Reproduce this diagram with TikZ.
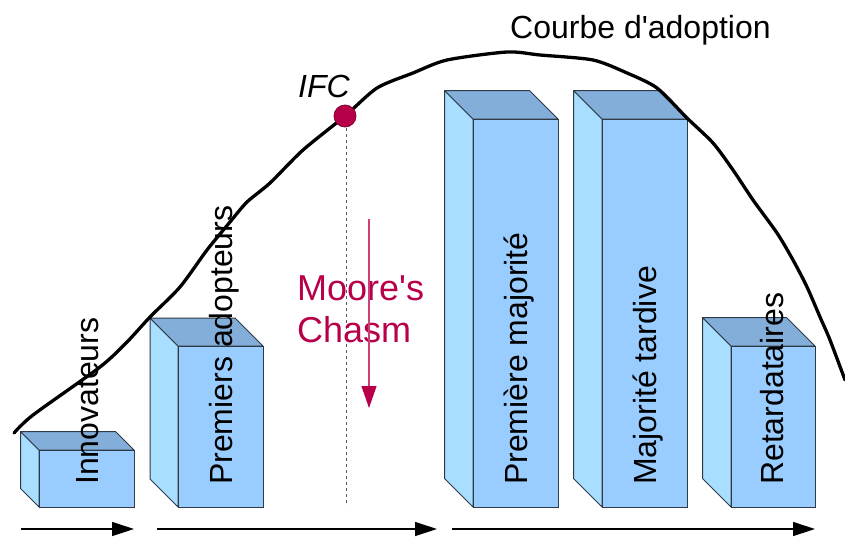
\documentclass[tikz,border=0pt]{standalone}
\usepackage{fontspec}
\setmainfont{Liberation Sans}
\usetikzlibrary{arrows.meta}
\definecolor{frontc}{HTML}{99CCFF}
\definecolor{topc}{HTML}{83AEDA}
\definecolor{sidec}{HTML}{A8DEFF}
\definecolor{edgec}{HTML}{2E3A46}
\definecolor{chasm}{HTML}{B8004A}
\newcommand\prismbox[5]{%
  \fill[sidec,draw=edgec,line width=1pt,line join=round] ({#1-#5},{#3-#5}) -- (#1,#3) -- (#1,#4) -- ({#1-#5},{#4-#5}) -- cycle;
  \fill[topc,draw=edgec,line width=1pt,line join=round] ({#1-#5},{#3-#5}) -- ({#2-#5},{#3-#5}) -- (#2,#3) -- (#1,#3) -- cycle;
  \fill[frontc,draw=edgec,line width=1pt] (#1,#3) rectangle (#2,#4);}
\tikzset{
  lbl/.style={rotate=90,anchor=base west,inner sep=0pt,font=\fontsize{32}{38}\selectfont},
  flow/.style={line width=1.3pt,-{Triangle[length=22pt,width=14pt]}},
}
\begin{document}
\begin{tikzpicture}[x=1pt,y=-1pt]
\useasboundingbox (0,0) rectangle (845,536);
% boxes
\prismbox{39}{134}{450}{507}{18.5}
\prismbox{178}{263}{346}{507}{28}
\prismbox{473}{558}{119}{507}{28.5}
\prismbox{602}{687}{119}{507}{28.5}
\prismbox{731}{815}{346}{507}{28.5}
% dashed IFC line
\coordinate (chasmbot) at (346,506);
\draw[gray!70!black,line width=1pt,dash pattern=on 3pt off 3pt] (346,116) -- (chasmbot);
% curve
\draw[line width=3.3pt,line join=round,line cap=round] plot[smooth,tension=0.45] coordinates {
 (14,433) (33,415) (100,367) (127,342) (150,317) (180,287) (207,250) (230,222)
 (247,202) (270,183) (303,150) (345,116) (377,88) (413,73) (447,60) (507,52)
 (540,55) (593,60) (627,73) (657,88) (687,118) (713,143) (733,170) (753,200)
 (777,233) (793,260) (807,287) (820,317) (830,340) (845,380)};
% IFC dot
\node[circle,fill=chasm,draw=chasm!70!black,line width=0.8pt,minimum size=22pt,inner sep=0pt] (ifc) at (345,116) {};
\node[anchor=base west,inner sep=0pt,font=\fontsize{32}{38}\selectfont\itshape] (ifct) at (298,97) {IFC};
% Moore's chasm
\node[anchor=base west,inner sep=0pt,text=chasm,font=\fontsize{36}{42}\selectfont] (moore) at (297,300) {Moore\textquotesingle s};
\node[anchor=base west,inner sep=0pt,text=chasm,font=\fontsize{36}{42}\selectfont] (chasmt) at (297,342) {Chasm};
\coordinate (ca) at (369,219);
\coordinate (cb) at (369,408);
\draw[chasm!75,line width=1.2pt,-{Triangle[length=22pt,width=15pt,fill=chasm,color=chasm]}] (ca) -- (cb);
% title
\node[anchor=base west,inner sep=0pt,font=\fontsize{32}{38}\selectfont] (title) at (510,38) {Courbe d\textquotesingle adoption};
% labels
\node[lbl] (l1) at (98.5,485) {Innovateurs};
\node[lbl] (l2) at (232,485) {Premiers adopteurs};
\node[lbl] (l3) at (527,485) {Première majorité};
\node[lbl] (l4) at (656,485) {Majorité tardive};
\node[lbl] (l5) at (783,485) {Retardataires};
% bottom arrows
\coordinate (a1) at (21,529); \coordinate (b1) at (134,529);
\coordinate (a2) at (157,529); \coordinate (b2) at (437,529);
\coordinate (a3) at (452,529); \coordinate (b3) at (815,529);
\draw[flow] (a1) -- (b1);
\draw[flow] (a2) -- (b2);
\draw[flow] (a3) -- (b3);
\end{tikzpicture}
\end{document}
